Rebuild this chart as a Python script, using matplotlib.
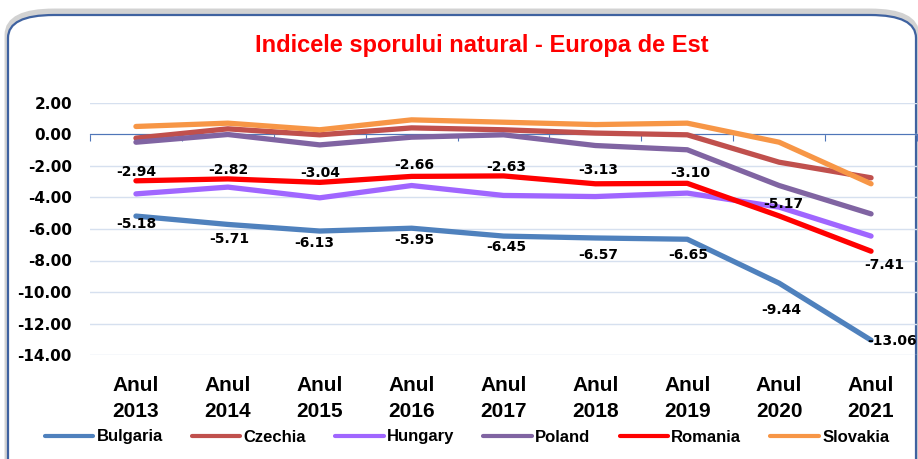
import matplotlib
matplotlib.use("Agg")
import matplotlib.pyplot as plt
from matplotlib import font_manager
from matplotlib.patches import FancyBboxPatch

# data
years = ["2013", "2014", "2015", "2016", "2017", "2018", "2019", "2020", "2021"]
categories = ["Anul\n" + y for y in years]

bulgaria = [-5.18, -5.71, -6.13, -5.95, -6.45, -6.57, -6.65, -9.44, -13.06]
czechia = [-0.23, 0.36, -0.02, 0.42, 0.30, 0.09, -0.02, -1.76, -2.75]
hungary = [-3.77, -3.34, -4.02, -3.24, -3.87, -3.94, -3.72, -4.61, -6.45]
poland = [-0.49, 0.00, -0.66, -0.17, -0.02, -0.70, -0.97, -3.24, -5.04]
romania = [-2.94, -2.82, -3.04, -2.66, -2.63, -3.13, -3.10, -5.17, -7.41]
slovakia = [0.51, 0.72, 0.30, 0.93, 0.78, 0.63, 0.72, -0.49, -3.13]

series_names = ["Bulgaria", "Czechia", "Hungary", "Poland", "Romania", "Slovakia"]
series_values = [bulgaria, czechia, hungary, poland, romania, slovakia]
series_colors = ["#4F81BD", "#C0504D", "#A066FF", "#8064A2", "#FF0000", "#F79646"]

# label offsets in pixels (dx, dy)
romania_offsets = [(0, 9), (1, 9), (1, 9), (3, 11), (3, 9), (3, 14), (3, 10), (4, 12), (13, -14)]
bulgaria_offsets = [(0, -8), (1, -15), (-5, -12), (3, -12), (3, -11), (3, -17), (1, -16), (2, -27), (21, -1)]

names = {f.name for f in font_manager.fontManager.ttflist}
if "Liberation Sans Narrow" in names:
    title_font, title_size = "Liberation Sans Narrow", 20
else:
    title_font, title_size = "Liberation Sans", 17

fig = plt.figure(figsize=(9.18, 4.59), dpi=100)
W, H = 918, 459

# rounded frame with a soft shadow
shadow = FancyBboxPatch((8 / W, -0.05), 908 / W, (444 / H) + 0.05 + 3 / H,
                        boxstyle="round,pad=0,rounding_size=0.05",
                        transform=fig.transFigure, facecolor="none",
                        edgecolor="#B5B5B5", linewidth=5, alpha=0.6, zorder=-11)
frame = FancyBboxPatch((8 / W, -0.05), 908 / W, (444 / H) + 0.05,
                       boxstyle="round,pad=0,rounding_size=0.05",
                       transform=fig.transFigure, facecolor="white",
                       edgecolor="#3F62A0", linewidth=1.6, zorder=-10)
fig.patches.extend([shadow, frame])

ax = fig.add_axes([90 / W, 1 - 355 / H, 827 / W, 252 / H])
ax.set_facecolor("none")

x = list(range(len(years)))
for name, vals, col in zip(series_names, series_values, series_colors):
    ax.plot(x, vals, color=col, linewidth=3.8, label=name, solid_capstyle="round", zorder=3)

for i, v in enumerate(romania):
    dx, dy = romania_offsets[i]
    ax.annotate(f"{v:.2f}", (i, v), xytext=(dx, dy), textcoords="offset pixels",
                ha="center", va="center", fontsize=10, fontweight="bold",
                family="DejaVu Sans", zorder=4)
for i, v in enumerate(bulgaria):
    dx, dy = bulgaria_offsets[i]
    ax.annotate(f"{v:.2f}", (i, v), xytext=(dx, dy), textcoords="offset pixels",
                ha="center", va="center", fontsize=10, fontweight="bold",
                family="DejaVu Sans", zorder=4)

ax.set_xlim(-0.5, len(years) - 0.5)
ax.set_ylim(-14, 2)
yt = list(range(-14, 3, 2))
ax.set_yticks(yt)
ax.set_yticklabels([f"{t:.2f}" for t in yt], fontsize=11, fontweight="bold", family="DejaVu Sans")
ax.tick_params(axis="y", length=0, pad=13)
ax.grid(axis="y", color="#D6E0EF", linewidth=1, zorder=0)

for s in ["top", "right", "left"]:
    ax.spines[s].set_visible(False)
ax.spines["bottom"].set_position(("data", 0))
ax.spines["bottom"].set_color("#4F76B8")
ax.spines["bottom"].set_zorder(2)
ax.set_xticks([i - 0.5 for i in range(len(years) + 1)])
ax.set_xticklabels([])
ax.tick_params(axis="x", direction="out", length=5, color="#4F76B8")

sec = ax.secondary_xaxis("bottom")
sec.set_xticks(x)
sec.set_xticklabels(categories, fontsize=15, fontweight="bold", family="Liberation Sans",
                    linespacing=1.45)
sec.tick_params(length=0, pad=15)
sec.spines["bottom"].set_visible(False)

fig.text(0.525, 0.9, "Indicele sporului natural - Europa de Est", color="#FF0000",
         fontsize=title_size, fontweight="bold", family=title_font, ha="center", va="center")

fig.legend(loc="center", bbox_to_anchor=(467 / W, 1 - 437 / H), ncol=6, frameon=False,
           prop={"family": "Liberation Sans", "weight": "bold", "size": 12},
           handlelength=2.9, handletextpad=0.2, columnspacing=1.75)
for line in fig.legends[0].get_lines():
    line.set_linewidth(3)

fig.savefig("out.png", dpi=100)
